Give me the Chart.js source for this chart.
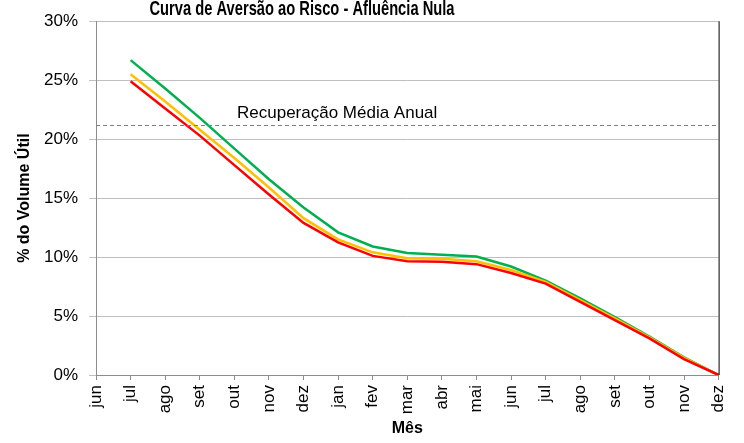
<!DOCTYPE html>
<html>
<head>
<meta charset="utf-8">
<script src="https://cdn.jsdelivr.net/npm/chart.js@4"></script>
<style>
  html, body { margin: 0; padding: 0; background: #fff; }
  #wrap { width: 744px; height: 443px; }
</style>
</head>
<body>
<div id="wrap"><canvas id="myChart" width="744" height="443"></canvas></div>
<script>
// month labels (jun .. dez of the following year)
var meses = ['jun', 'jul', 'ago', 'set', 'out', 'nov', 'dez', 'jan', 'fev', 'mar',
  'abr', 'mai', 'jun', 'jul', 'ago', 'set', 'out', 'nov', 'dez'];

// % do volume util
var verde = [null, 26.7, 24.3, 21.8, 19.2, 16.6, 14.2, 12.1, 10.9, 10.35, 10.2, 10.05, 9.2, 8.0, 6.5, 4.9, 3.25, 1.5, 0];
var amarelo = [null, 25.5, 23.2, 20.8, 18.4, 15.9, 13.3, 11.5, 10.4, 9.9, 9.85, 9.65, 8.9, 7.9, 6.35, 4.8, 3.2, 1.45, 0];
var vermelho = [null, 24.9, 22.6, 20.3, 17.8, 15.3, 12.9, 11.25, 10.1, 9.65, 9.6, 9.4, 8.65, 7.75, 6.2, 4.65, 3.1, 1.35, 0];

var recuperacaoMedia = 21.2;
var yTicks = [0, 5, 10, 15, 20, 25, 30];
var titulo = 'Curva de Aversão ao Risco - Afluência Nula';

var FONT = '"Liberation Sans", Arial, sans-serif';

// title, dashed reference line + its label, and the black right border
var extras = {
  id: 'extras',
  afterDatasetsDraw: function(chart) {
    var ctx = chart.ctx;
    var area = chart.chartArea;
    var y = chart.scales.y.getPixelForValue(recuperacaoMedia);
    ctx.save();
    ctx.strokeStyle = '#7f7f7f';
    ctx.lineWidth = 1;
    ctx.setLineDash([4, 3]);
    ctx.beginPath();
    ctx.moveTo(area.left, Math.round(y) + 0.5);
    ctx.lineTo(area.right, Math.round(y) + 0.5);
    ctx.stroke();
    ctx.setLineDash([]);
    ctx.fillStyle = '#000';
    ctx.font = '17px ' + FONT;
    ctx.textBaseline = 'bottom';
    ctx.textAlign = 'left';
    ctx.fillText('Recuperação Média Anual', 237, y - 3);
    ctx.strokeStyle = '#000';
    ctx.beginPath();
    ctx.moveTo(area.right + 0.5, area.top);
    ctx.lineTo(area.right + 0.5, area.bottom);
    ctx.stroke();
    // chart title, narrow and partly cut by the top edge
    ctx.translate(302, 15);
    ctx.scale(0.7, 1);
    ctx.font = 'bold 21px ' + FONT;
    ctx.textAlign = 'center';
    ctx.textBaseline = 'alphabetic';
    ctx.fillText(titulo, 0, 0);
    ctx.restore();
  }
};

var ctx = document.getElementById('myChart');
var chart = new Chart(ctx, {
  type: 'line',
  data: {
    labels: meses,
    datasets: [
      { label: 'verde', data: verde, borderColor: '#00b050', order: 3 },
      { label: 'amarelo', data: amarelo, borderColor: '#ffc000', order: 2 },
      { label: 'vermelho', data: vermelho, borderColor: '#ff0000', order: 1 }
    ]
  },
  options: {
    responsive: false,
    animation: false,
    events: [],
    layout: { padding: { top: 20, right: 23, left: 0, bottom: 0 } },
    elements: {
      line: { borderWidth: 2.5, tension: 0, fill: false },
      point: { radius: 0 }
    },
    plugins: {
      legend: { display: false },
      tooltip: { enabled: false },
      title: { display: false }
    },
    scales: {
      x: {
        offset: false,
        grid: { drawOnChartArea: false, color: '#8c8c8c', tickLength: 5 },
        border: { color: '#8c8c8c' },
        ticks: {
          color: '#000', font: { family: FONT, size: 17 },
          maxRotation: 90, minRotation: 90, autoSkip: false, padding: 5
        },
        title: {
          display: true, text: 'Mês', color: '#000',
          font: { family: FONT, size: 16, weight: 'bold' },
          padding: { top: 0, bottom: 5 }
        },
        afterFit: function(scale) { scale.height = 68; }
      },
      y: {
        min: 0, max: 30,
        afterBuildTicks: function(scale) {
          scale.ticks = yTicks.map(function(v) { return { value: v }; });
        },
        grid: { color: '#bfbfbf', tickLength: 7 },
        border: { color: '#8c8c8c' },
        ticks: {
          color: '#000', font: { family: FONT, size: 17 }, padding: 11,
          callback: function(v) { return v + '%'; }
        },
        title: {
          display: true, text: '% do Volume Útil', color: '#000',
          font: { family: FONT, size: 16, weight: 'bold' },
          padding: { top: 15, bottom: 0 }
        },
        afterFit: function(scale) { scale.width = 96; }
      }
    }
  },
  plugins: [extras]
});
</script>
</body>
</html>
